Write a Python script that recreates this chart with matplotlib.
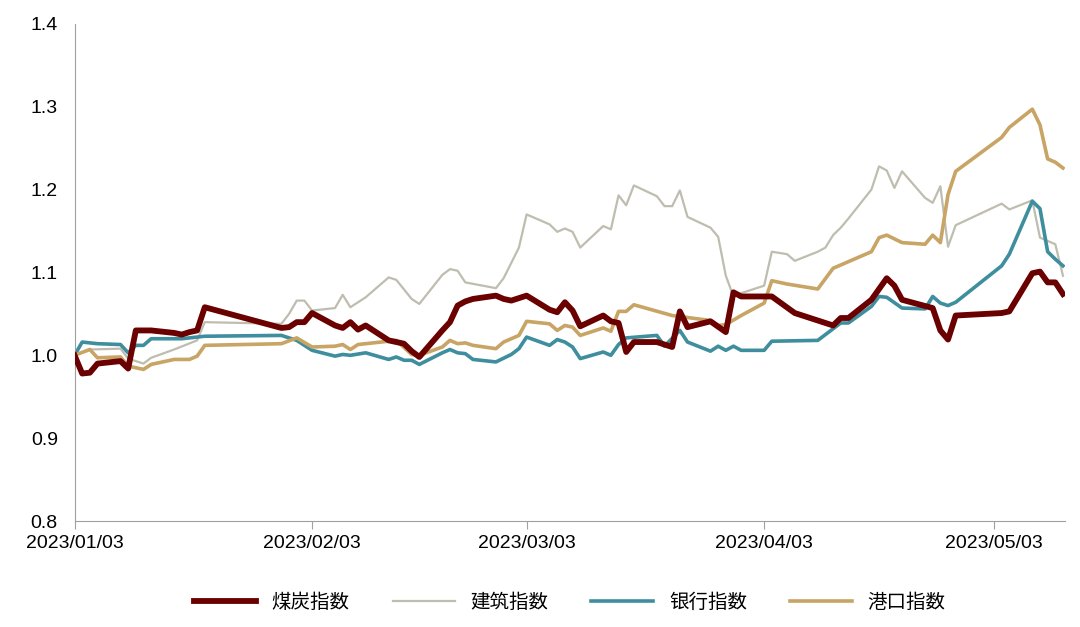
import pandas as pd
import matplotlib.pyplot as plt
import matplotlib.dates as mdates

plt.rcParams["font.family"] = ["Liberation Sans", "Noto Sans CJK SC", "Noto Sans CJK JP",
                               "Noto Sans CJK TC", "Noto Sans CJK KR", "DejaVu Sans"]

coal_dates = ["01/03", "01/04", "01/05", "01/06", "01/09", "01/10", "01/11", "01/12", "01/13", "01/16",
              "01/17", "01/18", "01/19", "01/20", "01/30", "01/31", "02/01", "02/02", "02/03", "02/06",
              "02/07", "02/08", "02/09", "02/10", "02/13", "02/14", "02/15", "02/16", "02/17", "02/20",
              "02/21", "02/22", "02/23", "02/24", "02/27", "02/28", "03/01", "03/02", "03/03", "03/06",
              "03/07", "03/08", "03/09", "03/10", "03/13", "03/14", "03/15", "03/16", "03/17", "03/20",
              "03/22", "03/23", "03/24", "03/27", "03/29", "03/30", "03/31", "04/04", "04/07", "04/12",
              "04/13", "04/14", "04/17", "04/19", "04/20", "04/21", "04/25", "04/26", "04/27", "04/28",
              "05/04", "05/05", "05/08", "05/09", "05/10", "05/11", "05/12"]
coal_vals = [1.0, 0.978, 0.979, 0.99, 0.993, 0.984, 1.03, 1.03, 1.03, 1.027,
             1.025, 1.028, 1.03, 1.058, 1.033, 1.034, 1.04, 1.04, 1.051, 1.036,
             1.033, 1.04, 1.031, 1.036, 1.018, 1.016, 1.014, 1.005, 0.998, 1.03,
             1.04, 1.06, 1.065, 1.068, 1.072, 1.068, 1.066, 1.069, 1.072, 1.055,
             1.052, 1.064, 1.054, 1.035, 1.048, 1.041, 1.039, 1.004, 1.016, 1.016,
             1.01, 1.053, 1.034, 1.041, 1.028, 1.076, 1.071, 1.071, 1.051, 1.036,
             1.045, 1.045, 1.067, 1.093, 1.084, 1.067, 1.057, 1.03, 1.019, 1.048,
             1.051, 1.053, 1.099, 1.101, 1.088, 1.088, 1.074]

build_dates = ["01/03", "01/05", "01/09", "01/10", "01/12", "01/13", "01/16", "01/19", "01/20", "01/30",
               "01/31", "02/01", "02/02", "02/03", "02/06", "02/07", "02/08", "02/10", "02/13", "02/14",
               "02/16", "02/17", "02/20", "02/21", "02/22", "02/23", "02/27", "02/28", "03/02", "03/03",
               "03/06", "03/07", "03/08", "03/09", "03/10", "03/13", "03/14", "03/15", "03/16", "03/17",
               "03/20", "03/21", "03/22", "03/23", "03/24", "03/27", "03/28", "03/29", "03/30", "03/31",
               "04/03", "04/04", "04/06", "04/07", "04/10", "04/11", "04/12", "04/13", "04/14", "04/17",
               "04/18", "04/19", "04/20", "04/21", "04/24", "04/25", "04/26", "04/27", "04/28", "05/04",
               "05/05", "05/08", "05/09", "05/10", "05/11", "05/12"]
build_vals = [1.0, 1.007, 1.008, 0.996, 0.99, 0.997, 1.007, 1.018, 1.04, 1.038,
              1.05, 1.066, 1.066, 1.054, 1.057, 1.073, 1.058, 1.07, 1.094, 1.091,
              1.068, 1.062, 1.097, 1.104, 1.102, 1.088, 1.081, 1.093, 1.13, 1.17,
              1.158, 1.149, 1.153, 1.149, 1.13, 1.156, 1.152, 1.193, 1.181, 1.205,
              1.192, 1.18, 1.18, 1.199, 1.167, 1.154, 1.143, 1.096, 1.071, 1.075,
              1.084, 1.125, 1.122, 1.114, 1.125, 1.13, 1.145, 1.154, 1.165, 1.2,
              1.228, 1.223, 1.202, 1.222, 1.19, 1.184, 1.204, 1.131, 1.157, 1.183,
              1.176, 1.187, 1.142, 1.138, 1.134, 1.096]

bank_dates = ["01/03", "01/04", "01/06", "01/09", "01/10", "01/11", "01/12", "01/13", "01/17", "01/20",
              "01/30", "02/01", "02/03", "02/06", "02/07", "02/08", "02/10", "02/13", "02/14", "02/15",
              "02/16", "02/17", "02/20", "02/21", "02/22", "02/23", "02/24", "02/27", "03/01", "03/02",
              "03/03", "03/06", "03/07", "03/08", "03/09", "03/10", "03/13", "03/14", "03/15", "03/16",
              "03/20", "03/21", "03/23", "03/24", "03/27", "03/28", "03/29", "03/30", "03/31", "04/03",
              "04/04", "04/10", "04/13", "04/14", "04/17", "04/18", "04/19", "04/21", "04/24", "04/25",
              "04/26", "04/27", "04/28", "05/04", "05/05", "05/08", "05/09", "05/10", "05/11", "05/12"]
bank_vals = [1.0, 1.016, 1.014, 1.013, 1.003, 1.012, 1.012, 1.02, 1.02, 1.023,
             1.024, 1.018, 1.006, 0.999, 1.001, 1.0, 1.003, 0.995, 0.998, 0.994,
             0.994, 0.989, 1.003, 1.007, 1.003, 1.002, 0.995, 0.992, 1.001, 1.008,
             1.022, 1.012, 1.019, 1.016, 1.01, 0.996, 1.004, 1.0, 1.013, 1.021,
             1.024, 1.011, 1.03, 1.016, 1.005, 1.011, 1.006, 1.011, 1.006, 1.006,
             1.017, 1.018, 1.039, 1.039, 1.059, 1.071, 1.07, 1.057, 1.056, 1.071,
             1.063, 1.06, 1.064, 1.108, 1.122, 1.186, 1.177, 1.125, 1.116, 1.108]

port_dates = ["01/03", "01/05", "01/06", "01/09", "01/10", "01/12", "01/13", "01/16", "01/18", "01/19",
              "01/20", "01/30", "02/01", "02/03", "02/06", "02/07", "02/08", "02/09", "02/14", "02/16",
              "02/17", "02/20", "02/21", "02/22", "02/23", "02/24", "02/27", "02/28", "03/02", "03/03",
              "03/06", "03/07", "03/08", "03/09", "03/10", "03/13", "03/14", "03/15", "03/16", "03/17",
              "03/22", "03/27", "03/28", "03/29", "03/31", "04/03", "04/04", "04/06", "04/10", "04/12",
              "04/14", "04/17", "04/18", "04/19", "04/21", "04/24", "04/25", "04/26", "04/27", "04/28",
              "05/04", "05/05", "05/08", "05/09", "05/10", "05/11", "05/12"]
port_vals = [1.0, 1.007, 0.997, 0.998, 0.987, 0.983, 0.989, 0.995, 0.995, 0.999,
             1.012, 1.014, 1.021, 1.01, 1.011, 1.013, 1.007, 1.013, 1.018, 1.001,
             1.0, 1.01, 1.018, 1.014, 1.015, 1.012, 1.008, 1.016, 1.024, 1.041,
             1.038, 1.03, 1.036, 1.034, 1.024, 1.033, 1.029, 1.053, 1.053, 1.061,
             1.048, 1.042, 1.036, 1.037, 1.048, 1.063, 1.09, 1.086, 1.08, 1.105,
             1.113, 1.125, 1.142, 1.145, 1.136, 1.134, 1.145, 1.136, 1.194, 1.222,
             1.263, 1.275, 1.297, 1.278, 1.237, 1.233, 1.226]

tick_dates = ["01/03", "02/03", "03/03", "04/03", "05/03"]


def to_dt(days):
    return pd.to_datetime(["2023/" + d for d in days], format="%Y/%m/%d")


fig = plt.figure(figsize=(10.8, 6.27), dpi=100)
ax = fig.add_axes([0.069, 0.169, 0.917, 0.793])

ax.plot(to_dt(coal_dates), coal_vals, color="#6B0000", lw=4.2, label="煤炭指数", zorder=4)
ax.plot(to_dt(build_dates), build_vals, color="#BFBDAF", lw=1.6, label="建筑指数", zorder=1)
ax.plot(to_dt(bank_dates), bank_vals, color="#3F8E9E", lw=2.6, label="银行指数", zorder=2)
ax.plot(to_dt(port_dates), port_vals, color="#C8A465", lw=2.6, label="港口指数", zorder=3)

ax.set_ylim(0.8, 1.4)
ax.set_yticks([0.8, 0.9, 1.0, 1.1, 1.2, 1.3, 1.4])
ax.yaxis.set_major_formatter(plt.FormatStrFormatter("%.1f"))
ax.set_xlim(to_dt(["01/03"])[0], to_dt(["05/12"])[0] + pd.Timedelta(hours=6))
ax.set_xticks(to_dt(tick_dates))
ax.xaxis.set_major_formatter(mdates.DateFormatter("%Y/%m/%d"))

for s in ["top", "right"]:
    ax.spines[s].set_visible(False)
for s in ["left", "bottom"]:
    ax.spines[s].set_color("#A0A0A0")
ax.tick_params(axis="y", length=0, labelsize=14, pad=12)
ax.tick_params(axis="x", length=6, color="#A0A0A0", labelsize=14, pad=4)

ax.legend(loc="upper center", bbox_to_anchor=(0.5, -0.11), ncol=4, frameon=False,
          fontsize=14, handlelength=3.2, columnspacing=2.2)

fig.savefig("out.png", dpi=100)
